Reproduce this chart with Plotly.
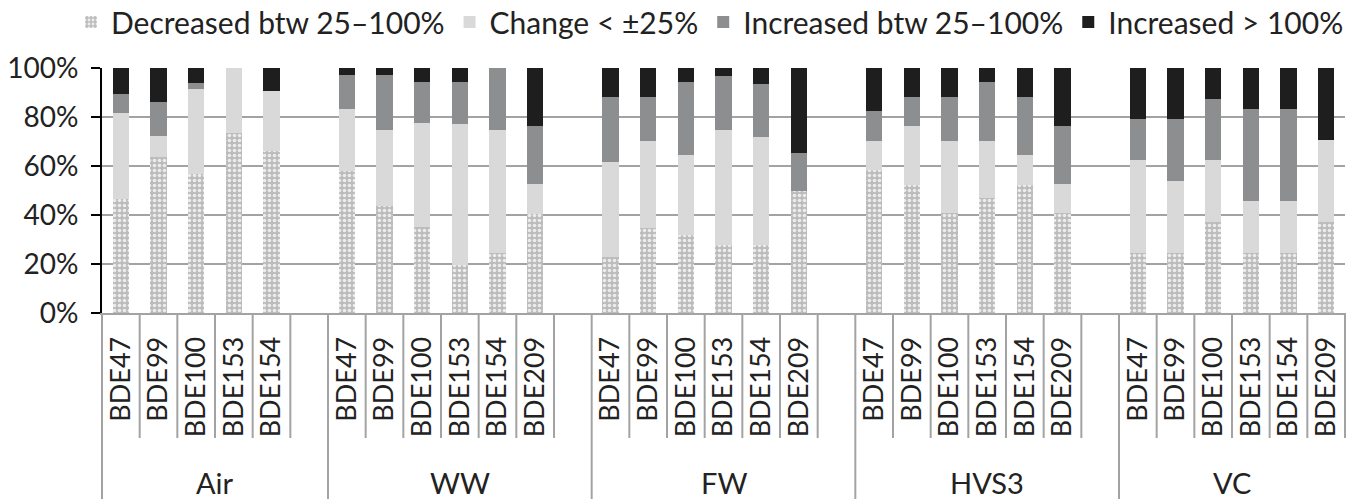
import plotly.graph_objects as go

# ---- data ----
groups = ["Air", "WW", "FW", "HVS3", "VC"]
group_sizes = [5, 6, 6, 6, 6]
congeners = ["BDE47", "BDE99", "BDE100", "BDE153", "BDE154", "BDE209"]

series_names = ["Decreased btw 25–100%", "Change < ±25%", "Increased btw 25–100%", "Increased > 100%"]

decreased = [46.7, 63.5, 56.7, 73.4, 66.3,
             58.1, 43.7, 35.2, 19.4, 24.3, 40.6,
             23.0, 34.6, 31.8, 27.6, 27.6, 49.6,
             58.5, 52.3, 40.7, 46.7, 52.3, 40.7,
             24.6, 24.6, 37.2, 24.6, 24.6, 37.2]
change = [35.0, 8.6, 34.6, 26.6, 24.6,
          25.3, 31.1, 42.3, 57.5, 50.5, 12.3,
          38.5, 35.8, 32.7, 47.3, 44.1, 0.0,
          11.9, 23.9, 29.6, 23.6, 12.2, 11.9,
          37.8, 29.4, 25.3, 21.0, 21.0, 33.5]
increased = [7.5, 13.9, 2.7, 0.0, 0.0,
             13.9, 22.4, 16.7, 17.3, 25.1, 23.4,
             26.6, 17.8, 29.8, 21.9, 21.9, 15.7,
             12.0, 11.9, 17.8, 23.9, 23.6, 23.6,
             16.8, 25.3, 25.0, 37.7, 37.7, 0.0]
increased_big = [10.8, 13.9, 6.0, 0.0, 9.2,
                 2.7, 2.7, 5.7, 5.7, 0.0, 23.8,
                 11.9, 11.9, 5.7, 3.3, 6.4, 34.7,
                 17.6, 11.9, 11.9, 5.7, 11.9, 23.8,
                 20.8, 20.8, 12.6, 16.7, 16.7, 29.4]

y_ticks = [0, 20, 40, 60, 80, 100]

# ---- layout of category slots (one blank slot after each group except the last) ----
x_pos, x_lab = [], []
group_start, group_end = [], []
slot = 0
for gi, n in enumerate(group_sizes):
    group_start.append(slot)
    for k in range(n):
        x_pos.append(slot + 0.5)
        x_lab.append(congeners[k])
        slot += 1
    if gi < len(group_sizes) - 1:
        slot += 1
    group_end.append(slot)
n_slots = slot

FONT = "Lato"
FS_LEG = 30
FS_Y = 28
FS_TICK = 27
FS_GRP = 29
GRID = "#a3a3a3"
TXT = "#222"

fig = go.Figure()
fig.add_trace(go.Bar(x=x_pos, y=decreased, name=series_names[0], width=0.43,
                     marker=dict(color="#bdbdbd", line=dict(width=0),
                                 pattern=dict(shape=".", fillmode="replace", bgcolor="#bcbcbc",
                                              fgcolor="#ececec", size=5, solidity=0.4))))
fig.add_trace(go.Bar(x=x_pos, y=change, name=series_names[1], width=0.43,
                     marker=dict(color="#d9d9d9", line=dict(width=0))))
fig.add_trace(go.Bar(x=x_pos, y=increased, name=series_names[2], width=0.43,
                     marker=dict(color="#8d8e90", line=dict(width=0))))
fig.add_trace(go.Bar(x=x_pos, y=increased_big, name=series_names[3], width=0.43,
                     marker=dict(color="#1e1e1e", line=dict(width=0))))

L, R, T, B = 102, 11, 68, 186
W = 1356 - L - R
H = 499 - T - B

shapes = []
boundaries_full = set(group_start)
for s in range(0, n_slots + 1):
    y0 = -B / H if s in boundaries_full else -(438 - 313) / H
    shapes.append(dict(type="line", xref="paper", yref="paper",
                       x0=s / n_slots, x1=s / n_slots, y0=0, y1=y0,
                       line=dict(color=GRID, width=2)))

annotations = []
for gi, g in enumerate(groups):
    annotations.append(dict(x=(group_start[gi] + group_end[gi]) / 2, xref="x",
                            y=-(482 - 313) / H, yref="paper", text=g, showarrow=False,
                            xanchor="center", yanchor="middle",
                            font=dict(family=FONT, size=FS_GRP, color=TXT)))

fig.update_layout(
    width=1356, height=499,
    margin=dict(l=L, r=R, t=T, b=B, autoexpand=False),
    paper_bgcolor="white", plot_bgcolor="white",
    barmode="stack", barnorm="percent", bargap=0,
    font=dict(family=FONT, size=FS_LEG, color=TXT),
    showlegend=True,
    legend=dict(orientation="h", x=(71 - L) / W, xanchor="left",
                y=(313 - 22) / H, yanchor="middle", itemwidth=30,
                font=dict(family=FONT, size=FS_LEG, color=TXT),
                bgcolor="rgba(0,0,0,0)", traceorder="normal"),
    xaxis=dict(range=[0, n_slots], tickmode="array", tickvals=x_pos, ticktext=x_lab,
               tickangle=-90, ticks="", showgrid=False, zeroline=False, automargin=False,
               showline=True, linecolor=GRID, linewidth=2,
               ticklabelstandoff=11, tickfont=dict(family=FONT, size=FS_TICK, color=TXT)),
    yaxis=dict(range=[0, 100], tickmode="array", tickvals=y_ticks,
               ticktext=[f"{v}%" for v in y_ticks], automargin=False,
               ticks="outside", ticklen=9, tickwidth=2, tickcolor="black",
               showline=True, linecolor="black", linewidth=2,
               showgrid=True, gridcolor=GRID, gridwidth=2, zeroline=False,
               ticklabelstandoff=7, tickfont=dict(family=FONT, size=FS_Y, color=TXT)),
    shapes=shapes, annotations=annotations,
)

fig.write_html("out.html", config={"displayModeBar": False},
               post_script="document.body.style.margin='0';document.body.style.overflow='hidden';")
